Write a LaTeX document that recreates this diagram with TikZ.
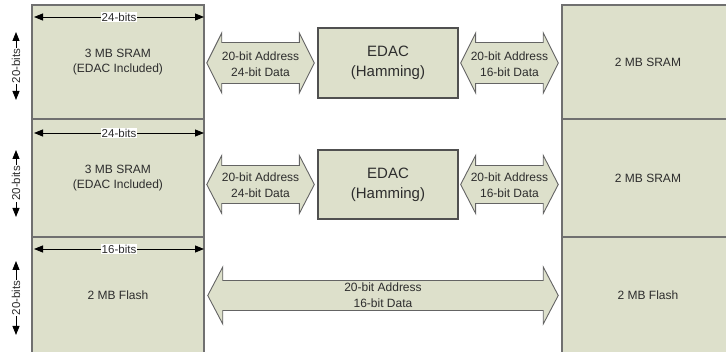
\documentclass[tikz,border=0pt]{standalone}
\usepackage{fontspec}
\setmainfont{Liberation Sans}
\usetikzlibrary{arrows.meta,calc}
\definecolor{memfill}{RGB}{221,224,203}
\definecolor{memline}{RGB}{112,112,112}
\definecolor{edacline}{RGB}{80,80,80}
\definecolor{busline}{RGB}{100,100,100}
\definecolor{txt}{RGB}{45,45,45}

% fat double-headed bus arrow: #1 left tip, #2 right tip, #3 half shaft, #4 half head
\newcommand{\busarrow}[4]{%
  \path[bus] (#1) -- ++(15,-#4) -- ++(0,#4-#3) -- ($(#2)+(-15,-#3)$)
    -- ++(0,#3-#4) -- (#2) -- ++(-15,#4) -- ++(0,#3-#4)
    -- ($(#1)+(15,#3)$) -- ++(0,#4-#3) -- cycle;}

\tikzset{
  mem/.style={draw=memline, line width=1.5pt, fill=memfill, text=txt,
    font=\fontsize{12}{15}\selectfont, align=center, inner sep=0pt,
    minimum width=172pt},
  edac/.style={draw=edacline, line width=1.3pt, fill=memfill, text=txt,
    font=\fontsize{15}{20}\selectfont, align=center, inner sep=0pt,
    minimum width=140pt},
  bus/.style={draw=busline, line width=0.9pt, fill=memfill},
  buslabel/.style={text=txt, font=\fontsize{12}{16}\selectfont, align=center,
    inner sep=0pt},
  dim/.style={black, line width=0.9pt, {Triangle[length=9pt,width=7pt]}-{Triangle[length=9pt,width=7pt]}},
  dimlabel/.style={fill=white, text=txt, font=\fontsize{11.5}{13}\selectfont,
    inner sep=1pt}
}

\begin{document}
\begin{tikzpicture}[x=1pt,y=-1pt]
\useasboundingbox (0,0) rectangle (726,352);

% memory blocks, left column
\node[mem, minimum height=114pt] (sramA) at (118,62) {3 MB SRAM\\(EDAC Included)};
\node[mem, minimum height=118pt] (sramB) at (118,178) {3 MB SRAM\\(EDAC Included)};
\node[mem, minimum height=117pt] (flashL) at (118,295.5) {2 MB Flash};

% memory blocks, right column
\node[mem, minimum height=114pt] (sramC) at (648,62) {2 MB SRAM};
\node[mem, minimum height=118pt] (sramD) at (648,178) {2 MB SRAM};
\node[mem, minimum height=117pt] (flashR) at (648,295.5) {2 MB Flash};

% error correction units
\node[edac, minimum height=70pt] (edacA) at (388,63) {EDAC\\(Hamming)};
\node[edac, minimum height=69pt] (edacB) at (388,184.5) {EDAC\\(Hamming)};

% bus end points
\coordinate (aL1) at ($(sramA.east |- edacA.west)+(2,0)$);
\coordinate (aR1) at ($(edacA.west)+(-3,0)$);
\coordinate (aL2) at ($(edacA.east)+(2,0)$);
\coordinate (aR2) at ($(sramC.west |- edacA.east)+(-3,0)$);
\coordinate (bL1) at ($(sramB.east |- edacB.west)+(2,0)$);
\coordinate (bR1) at ($(edacB.west)+(-3,0)$);
\coordinate (bL2) at ($(edacB.east)+(2,0)$);
\coordinate (bR2) at ($(sramD.west |- edacB.east)+(-3,0)$);
\coordinate (cL) at ($(flashL.east)+(3,0)$);
\coordinate (cR) at ($(flashR.west)+(-3,0)$);

% buses
\busarrow{aL1}{aR1}{20.5}{30}
\busarrow{aL2}{aR2}{20.5}{30}
\busarrow{bL1}{bR1}{19}{29}
\busarrow{bL2}{bR2}{19}{29}
\busarrow{cL}{cR}{15}{28.5}

\node[buslabel] (la1) at ($(aL1)!0.5!(aR1)+(0,1)$) {20-bit Address\\24-bit Data};
\node[buslabel] (la2) at ($(aL2)!0.5!(aR2)+(0,1)$) {20-bit Address\\16-bit Data};
\node[buslabel] (lb1) at ($(bL1)!0.5!(bR1)+(0,1)$) {20-bit Address\\24-bit Data};
\node[buslabel] (lb2) at ($(bL2)!0.5!(bR2)+(0,1)$) {20-bit Address\\16-bit Data};
\node[buslabel] (lc) at ($(cL)!0.5!(cR)$) {20-bit Address\\16-bit Data};

% width dimensions
\coordinate (wA1) at (34,17);  \coordinate (wA2) at (204,17);
\coordinate (wB1) at (34,133); \coordinate (wB2) at (204,133);
\coordinate (wC1) at (34,249); \coordinate (wC2) at (204,249);
\draw[dim] (wA1) -- (wA2) node[midway, dimlabel] (dwA) {24-bits};
\draw[dim] (wB1) -- (wB2) node[midway, dimlabel] (dwB) {24-bits};
\draw[dim] (wC1) -- (wC2) node[midway, dimlabel] (dwC) {16-bits};

% depth dimensions
\coordinate (hA1) at (16,100); \coordinate (hA2) at (16,32);
\coordinate (hB1) at (16,217); \coordinate (hB2) at (16,150);
\coordinate (hC1) at (16,335); \coordinate (hC2) at (16,261);
\draw[dim] (hA1) -- (hA2) node[midway, dimlabel, rotate=90] (dhA) {20-bits};
\draw[dim] (hB1) -- (hB2) node[midway, dimlabel, rotate=90] (dhB) {20-bits};
\draw[dim] (hC1) -- (hC2) node[midway, dimlabel, rotate=90] (dhC) {20-bits};
\end{tikzpicture}
\end{document}
